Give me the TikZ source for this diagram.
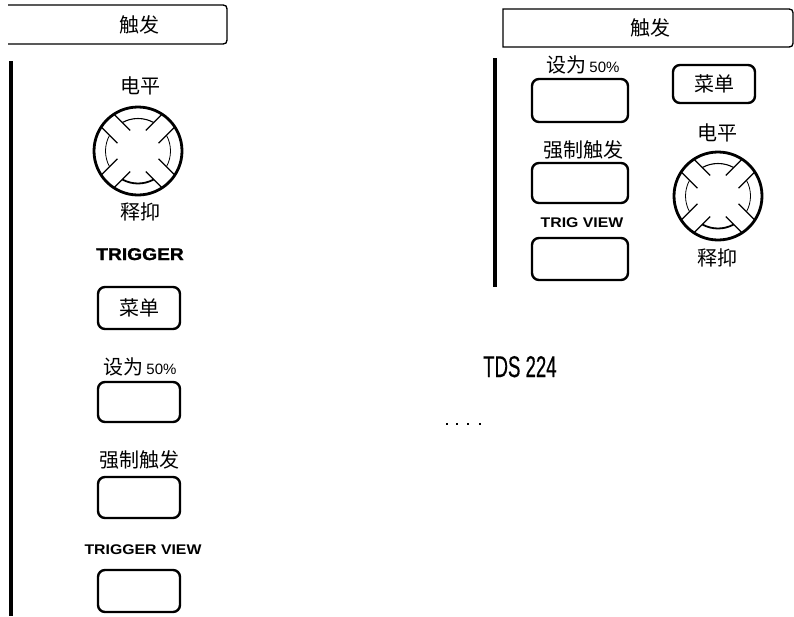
\documentclass[tikz,border=0pt]{standalone}
\usepackage{fontspec}
\usepackage{graphicx}
\setmainfont{Liberation Sans}
\newfontfamily\cjk{Noto Sans CJK SC}
\newfontfamily\heavyfont[BoldFeatures={FakeBold=1.2}]{Liberation Sans}
\newfontfamily\tdsfont[FakeBold=0.5]{Liberation Sans}
\begin{document}
\begin{tikzpicture}[x=1pt,y=-1pt,
  btn/.style={draw, line width=2.4pt, rounded corners=7pt, inner sep=0pt,
    minimum width=82pt, minimum height=41pt, font=\cjk\fontsize{20}{20}\selectfont},
  zh/.style={font=\cjk\fontsize{20}{20}\selectfont, inner sep=0pt},
  lat/.style={font=\bfseries\fontsize{14}{14}\selectfont, inner sep=0pt},
  tab/.style={line width=1.3pt},
  rail/.style={line width=3.4pt},
  knob/.pic={
    \draw[line width=2.8pt] (0,0) circle (44);
    \foreach \a in {45,135,225,315}{
      \foreach \s in {-1,1}{
        \draw[line width=1.3pt]
          ({20*cos(\a)-\s*9*sin(\a)},{20*sin(\a)+\s*9*cos(\a)}) --
          ({43*cos(\a)-\s*9*sin(\a)},{43*sin(\a)+\s*9*cos(\a)});
      }
    }
    \draw[line width=1.8pt] (61.3:32.5) arc[start angle=61.3,end angle=118.7,radius=32.5];
    \draw[line width=1.1pt] (241.3:32.5) arc[start angle=241.3,end angle=298.7,radius=32.5];
    \draw[line width=0.8pt] (151.3:32.5) arc[start angle=151.3,end angle=208.7,radius=32.5];
    \draw[line width=0.8pt] (-28.7:32.5) arc[start angle=-28.7,end angle=28.7,radius=32.5];
  }
]
\useasboundingbox (0,0) rectangle (794,616);
\fill[white] (0,0) rectangle (794,616);

% ---------- left panel ----------
\draw[tab] (8,5) -- (219,5) .. controls (227,5) .. (227,13) -- (227,36)
  .. controls (227,44) .. (219,44) -- (8,44);
\node[zh] (hdrL) at (139,25) {触发};
\draw[rail] (11,61) -- (11,616);

\node[zh] (lvlL) at (140,86) {电平};
\pic at (138,151) {knob};
\node[zh] (hldL) at (140,212) {释抑};
\node[font=\heavyfont\bfseries\fontsize{17}{17}\selectfont, inner sep=0pt, anchor=base] (trigL) at (140,260) {\scalebox{1.13}[1]{TRIGGER}};

\node[btn, minimum height=42pt] (menuL) at (139,308) {菜单};
\node[zh] (setL) at (140,367) {设为\hspace{3pt}{\normalfont\fontsize{15}{15}\selectfont 50\%}};
\node[btn, minimum height=40pt] (setBL) at (139,402) {};
\node[zh] (forceL) at (139,460) {强制触发};
\node[btn] (forceBL) at (139,497.5) {};
\node[lat] (tvL) at (143,550) {\scalebox{1.13}[1]{TRIGGER VIEW}};
\node[btn, minimum height=42pt] (tvBL) at (139,591) {};

% ---------- right panel ----------
\draw[tab] (785,47) -- (503,47) -- (503,9) -- (785,9) .. controls (793,9) .. (793,17)
  -- (793,39) .. controls (793,47) .. (785,47);
\node[zh] (hdrR) at (650,28) {触发};
\draw[rail] (495,58) -- (495,287);

\node[zh] (setR) at (583,65) {设为\hspace{3pt}{\normalfont\fontsize{15}{15}\selectfont 50\%}};
\node[btn, minimum width=96pt, minimum height=43pt] (setBR) at (580,100.5) {};
\node[zh] (forceR) at (583,150) {强制触发};
\node[btn, minimum width=96pt, minimum height=40pt] (forceBR) at (580,183) {};
\node[lat] (tvR) at (582,223) {\scalebox{1.13}[1]{TRIG VIEW}};
\node[btn, minimum width=96pt, minimum height=42pt] (tvBR) at (580,259) {};

\node[btn, minimum height=38pt] (menuR) at (714,84) {菜单};
\node[zh] (lvlR) at (717,133) {电平};
\pic at (718,196) {knob};
\node[zh] (hldR) at (717,258) {释抑};

% ---------- model ----------
\node[font=\tdsfont\fontsize{30}{30}\selectfont, inner sep=0pt, anchor=base west] (model) at (483,377) {\scalebox{0.62}[1]{TDS 224}};
\foreach \x in {447,457,468,480} \fill (\x-1,423) rectangle (\x+1,425);
\end{tikzpicture}
\end{document}
